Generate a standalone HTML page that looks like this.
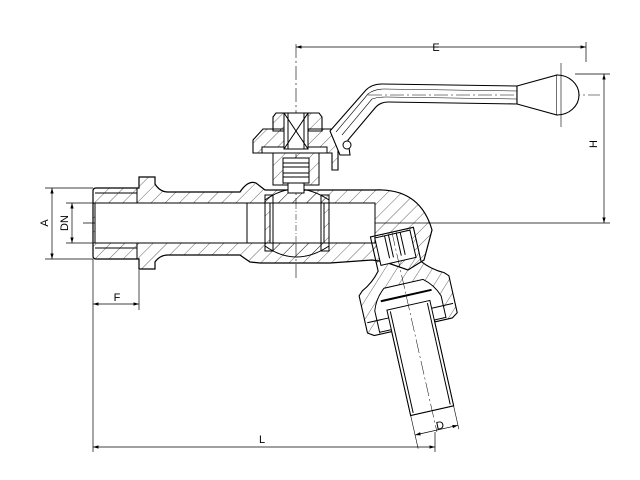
<!DOCTYPE html>
<html><head><meta charset="utf-8"><style>
html,body{margin:0;padding:0;background:#fff;width:640px;height:480px;overflow:hidden}
svg{display:block}
text{font-family:"Liberation Sans",sans-serif;font-size:11px;fill:#000}
</style></head><body>
<svg width="640" height="480" viewBox="0 0 640 480" xmlns="http://www.w3.org/2000/svg">
<defs>
<pattern id="h" patternUnits="userSpaceOnUse" width="10" height="10" patternTransform="rotate(45)">
<line x1="0" y1="0" x2="0" y2="10" stroke="#000" stroke-width="0.6"/>
</pattern>
<marker id="a" viewBox="0 0 10 6" refX="10" refY="3" markerWidth="8" markerHeight="5" orient="auto-start-reverse"><path d="M0,0 L10,3 L0,6 z" fill="#000"/></marker>
</defs>
<g fill="none" stroke="#000" stroke-width="1">
<line x1="83" y1="223" x2="610" y2="223" stroke-width="0.7"/>
<line x1="296" y1="44" x2="296" y2="280" stroke-width="0.6" stroke-dasharray="14,3,2,3"/>

<path d="M93,191 Q93,188 96,188 L139,188 L139,177 L155,177 L155,184 Q160,192 168,192 L240,192 Q248,180 256,183 L265,190 L340,190 Q360,190 375,190 Q420,188 432,230 L424,260 L408,270 L385,262 L372,260 L330,263 L260,263 L250,262 Q244,258 240,255 L168,255 Q160,255 155,262 L155,269 L139,269 L139,259 L96,259 Q93,259 93,256 Z" fill="url(#h)" stroke-width="1.2"/>
<rect x="95" y="203" width="280" height="40" fill="#fff" stroke-width="1"/>
<line x1="95" y1="193" x2="137" y2="193"/><line x1="95" y1="248" x2="137" y2="248"/>
<line x1="137" y1="188" x2="137" y2="203"/><line x1="137" y1="243" x2="137" y2="259"/>
<line x1="247" y1="203" x2="247" y2="243"/>
<path d="M265,200 Q296,178 329,200 L329,246 Q296,268 265,246 Z" fill="url(#h)" stroke-width="1"/>
<rect x="270" y="203" width="54" height="40" fill="#fff"/>
<rect x="265" y="195" width="8" height="56" fill="none"/>
<rect x="321" y="195" width="8" height="56" fill="none"/>
<line x1="296" y1="203" x2="296" y2="243" stroke-width="0.5" stroke-dasharray="6,2,1,2"/>

<path d="M273,153 L319,153 L319,185 L273,185 Z" fill="url(#h)"/>
<rect x="283" y="158" width="26" height="25" fill="#fff"/>
<line x1="283" y1="163" x2="309" y2="163"/><line x1="283" y1="167" x2="309" y2="167"/>
<line x1="283" y1="173" x2="309" y2="173"/><line x1="283" y1="177" x2="309" y2="177"/>
<rect x="288" y="183" width="16" height="10" fill="#fff"/>
<path d="M253,140 L263,129 L331,129 L338,140 L338,170 L332,170 L332,153 L253,153 Z" fill="url(#h)" stroke-width="1.1"/>
<rect x="262" y="147" width="65" height="6" fill="#fff"/>
<path d="M273,117 L276,113 L319,113 L322,117 L322,131 L273,131 Z" fill="url(#h)" stroke-width="1.1"/>
<rect x="284" y="113" width="24" height="36" fill="#fff"/>
<line x1="284" y1="113" x2="308" y2="149"/><line x1="308" y1="113" x2="284" y2="149"/>
<line x1="288" y1="113" x2="288" y2="149"/><line x1="304" y1="113" x2="304" y2="149"/>

<path d="M330,131 L366,90 Q372,84 382,84 L517,86 L517,104 L388,102 Q380,102 375,108 L348,140 L350,155 L340,155 Z" fill="#fff" stroke-width="1.1"/>
<path d="M336,132 L368,94 Q374,89 384,89 L517,91" stroke-width="0.6"/>
<path d="M342,135 L372,99 Q378,97 386,97 L517,99" stroke-width="0.6"/>
<line x1="368" y1="95" x2="600" y2="95" stroke-width="0.5" stroke-dasharray="14,3,2,3"/>
<circle cx="347" cy="145" r="4" fill="#fff"/>
<path d="M517,86 L557,75 L557,115 L517,104 Z" fill="#fff" stroke-width="1.1"/>
<path d="M557,75 A22,20 0 1 1 557,115" fill="#fff" stroke-width="1.1"/>
<line x1="561" y1="63" x2="561" y2="127" stroke-width="0.6"/>

<g transform="translate(393,237) rotate(-12.7)">
<path d="M-22,-5 L22,-5 L22,30 Q30,40 42,46 L46,50 L46,88 L40,92 L22,92 L22,178 L-22,178 L-22,92 L-40,92 L-46,88 L-46,50 L-42,46 Q-30,40 -22,30 Z" fill="url(#h)" stroke-width="1.1"/>
<rect x="-18" y="-3" width="36" height="28" fill="#fff"/>
<line x1="-8" y1="-3" x2="-8" y2="20"/><line x1="-4" y1="-3" x2="-4" y2="20"/>
<line x1="4" y1="-3" x2="4" y2="20"/><line x1="8" y1="-3" x2="8" y2="20"/>
<path d="M-20,48 Q-30,56 -34,68 L-34,90 L34,90 L34,68 Q30,56 20,48 Z" fill="#fff"/>
<line x1="-26" y1="60" x2="26" y2="60" stroke-width="2"/>
<rect x="-22" y="70" width="44" height="108" fill="#fff"/>
<line x1="-19" y1="72" x2="-19" y2="176"/><line x1="19" y1="72" x2="19" y2="176"/>
<line x1="-44" y1="78" x2="-22" y2="78"/><line x1="22" y1="78" x2="44" y2="78"/>
<line x1="0" y1="-5" x2="0" y2="200" stroke-width="0.5" stroke-dasharray="14,3,2,3"/>
<line x1="-22" y1="178" x2="-22" y2="212" stroke-width="0.6"/>
<line x1="22" y1="178" x2="22" y2="202" stroke-width="0.6"/>
<line x1="-22" y1="198" x2="22" y2="198" stroke-width="0.7" marker-start="url(#a)" marker-end="url(#a)"/>
</g>

<g stroke-width="0.7">
<line x1="296" y1="47" x2="586" y2="47" marker-start="url(#a)" marker-end="url(#a)"/>
<line x1="586" y1="42" x2="586" y2="62"/>
<line x1="575" y1="74" x2="610" y2="74"/>
<line x1="604" y1="74" x2="604" y2="223" marker-start="url(#a)" marker-end="url(#a)"/>
<line x1="45" y1="188" x2="93" y2="188"/><line x1="45" y1="259" x2="93" y2="259"/>
<line x1="52" y1="188" x2="52" y2="259" marker-start="url(#a)" marker-end="url(#a)"/>
<line x1="66" y1="203" x2="95" y2="203"/><line x1="66" y1="243" x2="95" y2="243"/>
<line x1="72" y1="203" x2="72" y2="243" marker-start="url(#a)" marker-end="url(#a)"/>
<line x1="93" y1="259" x2="93" y2="452"/>
<line x1="139" y1="270" x2="139" y2="310"/>
<line x1="93" y1="304" x2="139" y2="304" marker-start="url(#a)" marker-end="url(#a)"/>
<line x1="93" y1="447" x2="435" y2="447" marker-start="url(#a)" marker-end="url(#a)"/>
<line x1="435" y1="432" x2="435" y2="452"/>
</g>
</g>
<text x="436" y="51" text-anchor="middle">E</text>
<text x="601" y="148" text-anchor="middle" transform="rotate(-90 597 148)">H</text>
<text x="48" y="223" text-anchor="middle" transform="rotate(-90 48 223)">A</text>
<text x="68" y="223" text-anchor="middle" transform="rotate(-90 68 223)">DN</text>
<text x="117" y="301" text-anchor="middle">F</text>
<text x="262" y="443" text-anchor="middle">L</text>
<text x="440" y="429" text-anchor="middle" transform="rotate(-12 440 425)">D</text>
</svg>
</body></html>
